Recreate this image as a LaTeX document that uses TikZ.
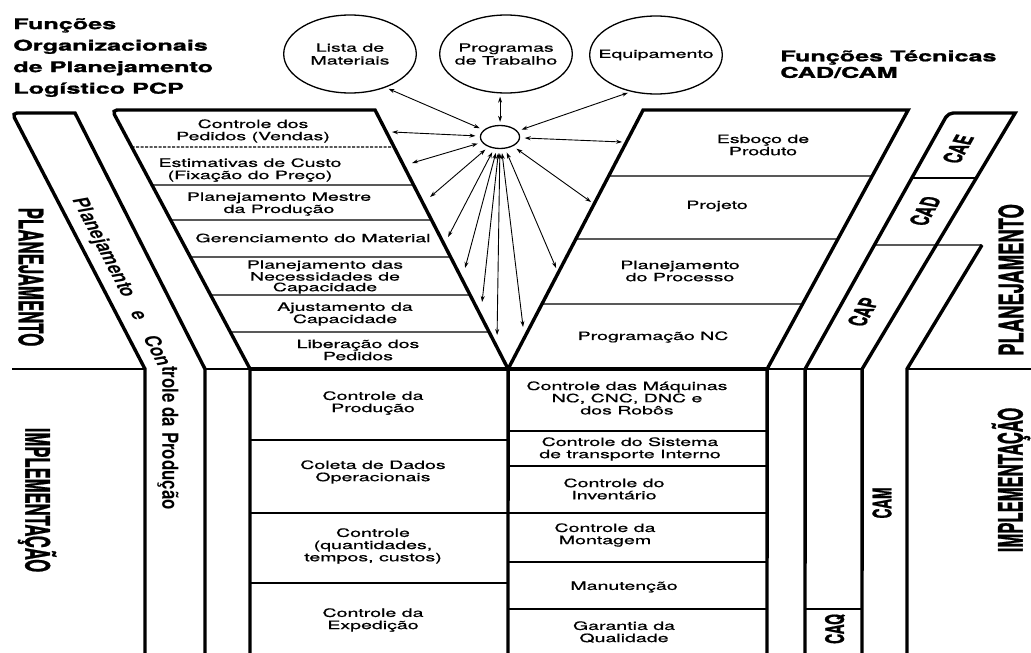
\documentclass[tikz,border=0pt]{standalone}
\usepackage{fontspec}
\setmainfont{TeX Gyre Heros}
\newfontfamily\bodyfont{TeX Gyre Heros}[FakeBold=0.6]
\newfontfamily\headfont{TeX Gyre Heros}[BoldFeatures={FakeBold=1.2}]
\usetikzlibrary{arrows.meta}

\tikzset{
  thk/.style={line width=3.4pt},
  sep/.style={line width=1.2pt},
  sepdash/.style={line width=1.1pt, dash pattern=on 3pt off 1.5pt},
  cell/.style={inner sep=0pt, align=center, font=\bodyfont\fontsize{11.5}{12.2}\selectfont},
  ring/.style={draw, circle, line width=1.3pt, minimum size=78pt, inner sep=0pt, align=center,
    font=\bodyfont\fontsize{11.5}{12.8}\selectfont},
  hubring/.style={draw, circle, line width=1.3pt, minimum size=23pt, inner sep=0pt},
  link/.style={{Stealth[length=6pt,width=4pt]}-{Stealth[length=6pt,width=4pt]}, line width=0.9pt},
  head/.style={inner sep=0pt, align=left, anchor=north west,
    font=\headfont\bfseries\fontsize{14.8}{21.5}\selectfont},
  side/.style={inner sep=0pt, font=\headfont\bfseries\fontsize{19.8}{21}\selectfont},
  tag/.style={inner sep=0pt, font=\headfont\bfseries\fontsize{15}{15}\selectfont},
  bandtext/.style={inner sep=0pt, font=\bfseries\fontsize{13}{13}\selectfont},
}

\begin{document}
\begin{tikzpicture}[x=0.588235pt, y=-1pt]
\begin{scope}[xscale=1.7, transform shape]
\useasboundingbox (0,0) rectangle (1031,653);

% ---------- corner points of the Y outline ----------
\coordinate (LT) at (112,110);
\coordinate (LB) at (250,369);
\coordinate (RT) at (375,110);
\coordinate (VX) at (508,369);
\coordinate (QT) at (643,110);
\coordinate (ST) at (908,110);
\coordinate (SB) at (767,369);
\coordinate (KT) at (948,113);
\coordinate (KB) at (805,369);
\coordinate (MT) at (1015,113);
\coordinate (MB) at (862,369);

% ---------- outer band on the left ----------
\draw[thk] (145,653) -- (145,369) [rounded corners=5pt] -- (12,113) [sharp corners]
  -- (75,113) -- (205,369) [rounded corners=5pt] -- (205,653);

% ---------- the Y ----------
\draw[thk] (250,653) -- (LB) [rounded corners=5pt] -- (LT) [sharp corners] -- (RT) -- (VX)
  -- (QT) -- (ST) -- (SB) [rounded corners=5pt] -- (767,653);
\draw[thk] (VX) -- (508,653);
\draw[thk] (LB) -- (SB);

% ---------- bands on the right ----------
\draw[thk] (805,653) -- (KB) [rounded corners=5pt] -- (KT) [sharp corners]
  -- (MT) -- (MB) [rounded corners=5pt] -- (862,653);
\draw[thk] (982,245) -- (907,369) [rounded corners=5pt] -- (907,653);
\draw[sep] (intersection of KT--KB and 0,178--9,178) -- (intersection of MT--MB and 0,178--9,178);
\draw[sep] (intersection of KT--KB and 0,245--9,245) -- (982,245);
\draw[sep] (805,609) -- (862,609);

% ---------- dividing line between the two phases ----------
\draw[sep] (12,369) -- (145,369);
\draw[sep] (205,369) -- (LB);
\draw[sep] (SB) -- (MB);
\draw[sep] (907,369) -- (1031,369);

% ---------- rows of the left arm ----------
\draw[sepdash] (intersection of LT--LB and 0,147--9,147) -- (intersection of RT--VX and 0,147--9,147);
\foreach \yy in {185,220,257,295,332}
  \draw[sep] (intersection of LT--LB and 0,\yy--9,\yy) -- (intersection of RT--VX and 0,\yy--9,\yy);

% ---------- rows of the right arm ----------
\foreach \yy in {176,239,304}
  \draw[sep] (intersection of QT--VX and 0,\yy--9,\yy) -- (intersection of ST--SB and 0,\yy--9,\yy);

% ---------- rows of the lower columns ----------
\foreach \yy in {440,513,583} \draw[sep] (250,\yy) -- (508,\yy);
\foreach \yy in {431,466,513,562,609} \draw[sep] (508,\yy) -- (767,\yy);

% ---------- headings ----------
\node[head] (hl) at (13,18) {Funções\\Organizacionais\\de Planejamento\\Logístico PCP};
\node[head, font=\headfont\bfseries\fontsize{14.8}{16.5}\selectfont] (hr) at (780,50)
  {Funções Técnicas\\CAD/CAM};

% ---------- data sources ----------
\node[ring] (lista) at (350,54) {Lista de\\Materiais};
\node[ring] (prog) at (506,54) {Programas\\de Trabalho};
\node[ring] (equip) at (656,55) {Equipamento};
\node[hubring] (hub) at (500,137) {};

% ---------- left arm ----------
\node[cell] (c1) at (253,131) {Controle dos\\Pedidos (Vendas)};
\node[cell] (c2) at (250,170) {Estimativas de Custo\\(Fixação do Preço)};
\node[cell] (c3) at (279,204) {Planejamento Mestre\\da Produção};
\node[cell] (c4) at (313,238) {Gerenciamento do Material};
\node[cell, font=\bodyfont\fontsize{11.5}{10.6}\selectfont] (c5) at (325,277)
  {Planejamento das\\Necessidades de\\Capacidade};
\node[cell] (c6) at (345,314) {Ajustamento da\\Capacidade};
\node[cell] (c7) at (358,350) {Liberação dos\\Pedidos};

% ---------- right arm ----------
\node[cell] (d1) at (763,145) {Esboço de\\Produto};
\node[cell] (d2) at (717,206) {Projeto};
\node[cell] (d3) at (680,271) {Planejamento\\do Processo};
\node[cell] (d4) at (653,337) {Programação NC};

% ---------- lower left column ----------
\node[cell] (e1) at (373,403) {Controle da\\Produção};
\node[cell] (e2) at (373,472) {Coleta de Dados\\Operacionais};
\node[cell] (e3) at (373,546) {Controle\\(quantidades,\\tempos, custos)};
\node[cell] (e4) at (373,620) {Controle da\\Expedição};

% ---------- lower right column ----------
\node[cell] (f1) at (627,398) {Controle das Máquinas\\NC, CNC, DNC e\\dos Robôs};
\node[cell] (f2) at (630,449) {Controle do Sistema\\de transporte Interno};
\node[cell] (f3) at (614,489) {Controle do\\Inventário};
\node[cell] (f4) at (605,535) {Controle da\\Montagem};
\node[cell] (f5) at (624,587) {Manutenção};
\node[cell] (f6) at (624,632) {Garantia da\\Qualidade};

% ---------- side labels ----------
\node[side, rotate=-90, xscale=0.85] (lplan) at (31,277) {PLANEJAMENTO};
\node[side, rotate=-90, xscale=0.84] (limpl) at (37,500) {IMPLEMENTAÇÃO};
\node[side, rotate=90, xscale=0.93] (rplan) at (1011,280) {PLANEJAMENTO};
\node[side, rotate=90, xscale=0.84] (rimpl) at (1011,480) {IMPLEMENTAÇÃO};

\node[tag, rotate=71.7, xscale=0.92] (cae) at (958,149) {CAE};
\node[tag, rotate=71.7, xscale=0.92] (cad) at (925,211) {CAD};
\node[tag, rotate=71.7, xscale=0.92] (cap) at (863,312) {CAP};
\node[tag, rotate=90, xscale=0.92] (cam) at (882,503) {CAM};
\node[tag, rotate=90, xscale=0.92] (caq) at (835,629) {CAQ};

% ---------- text in the left band ----------
\node[bandtext, rotate=-73.1, xscale=1.22] (bt1) at (103,248) {Planejamento};
\node[bandtext, rotate=-73.1, xscale=1.22] (bt2) at (138,316) {e};
\node[bandtext, rotate=-73.1, xscale=1.22, anchor=east] (bt3) at (166,366) {Con};
\node[bandtext, rotate=-90, xscale=1.3, anchor=west] (bt4) at (168,366) {trole da Produção};

% ---------- arrow end points ----------
\coordinate (a1) at (392,132);
\coordinate (a2) at (412,163);
\coordinate (a3) at (430,197);
\coordinate (a4) at (448,237);
\coordinate (a5) at (465,268);
\coordinate (a6) at (482,302);
\coordinate (a7) at (497,335);
\coordinate (b1) at (622,142);
\coordinate (b2) at (591,202);
\coordinate (b3) at (556,268);
\coordinate (b4) at (523,327);

% ---------- arrows ----------
\draw[link, shorten <=3pt, shorten >=4pt] (lista.-58) -- (hub);
\draw[link, shorten <=3pt, shorten >=4pt] (equip.-112) -- (hub);
\draw[link, shorten <=3pt, shorten >=3pt] (hub.north) -- (hub.north |- prog.south);
\foreach \p in {a1,a2,a3,a4,a5,a6,a7,b1,b2,b3,b4}
  \draw[link, shorten >=4pt] (\p) -- (hub);

\end{scope}
\end{tikzpicture}
\end{document}
